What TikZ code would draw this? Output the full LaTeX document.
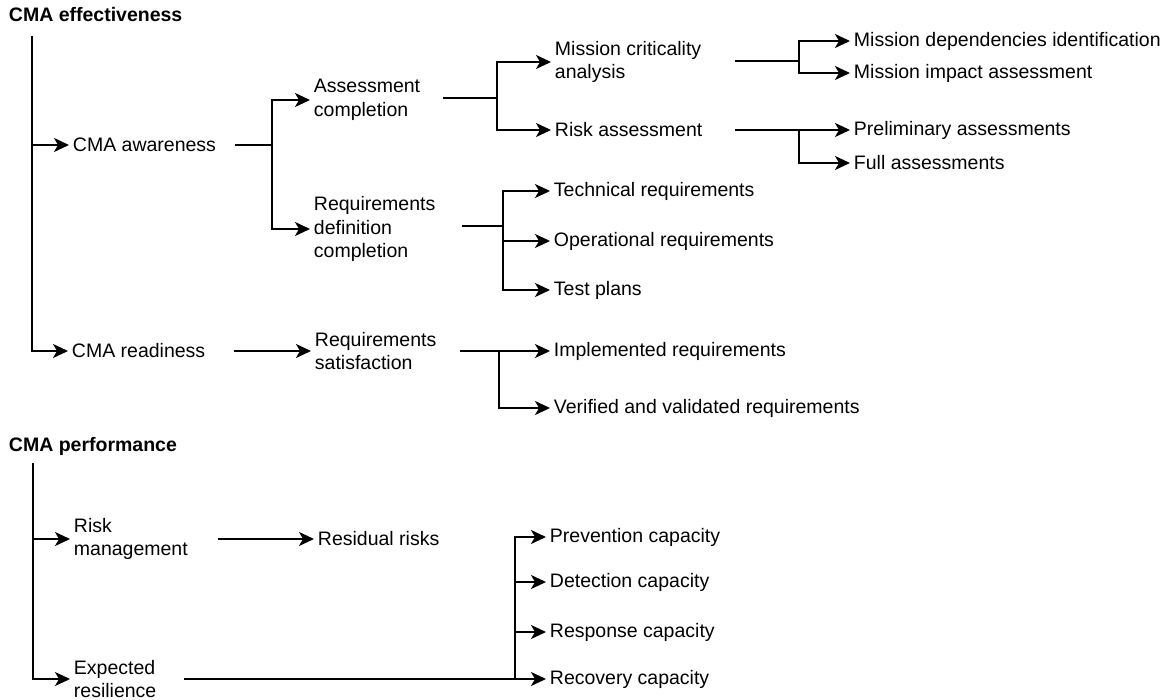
\documentclass[tikz,border=0pt]{standalone}
\usepackage{fontspec}
\setmainfont{Liberation Sans}
\usetikzlibrary{arrows.meta}

\begin{document}
\begin{tikzpicture}[x=1pt, y=-1pt, line width=1.9pt,
  lbl/.style={anchor=west, align=left, inner xsep=3pt, inner ysep=1pt,
    font=\fontsize{19.5}{23.5}\selectfont},
  head/.style={lbl, font=\fontsize{19.5}{23.5}\selectfont\bfseries},
  arr/.style={-{Stealth[length=15pt, width=14pt, inset=4pt]}}]
  \useasboundingbox (0,0) rectangle (1174,700);

  % CMA effectiveness
  \node[head] (eff)  at (5,15)    {CMA effectiveness};
  \node[lbl]  (aw)   at (69,145)  {CMA awareness};
  \node[lbl]  (rd)   at (68,351)  {CMA readiness};
  \node[lbl]  (ac)   at (310,100) {Assessment\\completion};
  \node[lbl]  (rdc)  at (310,229) {Requirements\\definition\\completion};
  \node[lbl]  (rs)   at (311,351) {Requirements\\satisfaction};
  \node[lbl]  (mca)  at (551,62)  {Mission criticality\\analysis};
  \node[lbl]  (ra)   at (551,130) {Risk assessment};
  \node[lbl]  (mdi)  at (850,41)  {Mission dependencies identification};
  \node[lbl]  (mia)  at (850,73)  {Mission impact assessment};
  \node[lbl]  (pa)   at (850,130) {Preliminary assessments};
  \node[lbl]  (fa)   at (850,163) {Full assessments};
  \node[lbl]  (tr)   at (550,191) {Technical requirements};
  \node[lbl]  (opr)  at (550,241) {Operational requirements};
  \node[lbl]  (tp)   at (550,290) {Test plans};
  \node[lbl]  (ir)   at (550,351) {Implemented requirements};
  \node[lbl]  (vvr)  at (550,408) {Verified and validated requirements};

  % CMA performance
  \node[head] (perf) at (5,446)   {CMA performance};
  \node[lbl]  (rm)   at (70,539)  {Risk\\management};
  \node[lbl]  (er)   at (70,679)  {Expected\\resilience};
  \node[lbl]  (rr)   at (314,539) {Residual risks};
  \node[lbl]  (pc)   at (546,537) {Prevention capacity};
  \node[lbl]  (dc)   at (546,582) {Detection capacity};
  \node[lbl]  (rsc)  at (546,632) {Response capacity};
  \node[lbl]  (rec)  at (546,679) {Recovery capacity};

  % effectiveness tree
  \coordinate (e0) at (32,36);
  \draw[arr] (e0) |- (aw.west);
  \draw[arr] (e0) |- (rd.west);

  \coordinate (aw-o) at (235,145);
  \coordinate (aw-f) at (272,145);
  \draw (aw-o) -- (aw-f);
  \draw[arr] (aw-f) |- (ac.west);
  \draw[arr] (aw-f) |- (rdc.west);

  \coordinate (ac-o) at (443,98);
  \coordinate (ac-f) at (497,98);
  \draw (ac-o) -- (ac-f);
  \draw[arr] (ac-f) |- (mca.west);
  \draw[arr] (ac-f) |- (ra.west);

  \coordinate (mca-o) at (735,61);
  \coordinate (mca-f) at (799,61);
  \draw (mca-o) -- (mca-f);
  \draw[arr] (mca-f) |- (mdi.west);
  \draw[arr] (mca-f) |- (mia.west);

  \coordinate (ra-o) at (735,130);
  \coordinate (ra-f) at (799,130);
  \draw[arr] (ra-o) -- (pa.west);
  \draw[arr] (ra-f) |- (fa.west);

  \coordinate (rdc-o) at (462,226);
  \coordinate (rdc-f) at (503,226);
  \draw (rdc-o) -- (rdc-f);
  \foreach \n in {tr,opr,tp} \draw[arr] (rdc-f) |- (\n.west);

  \coordinate (rd-o) at (234,351);
  \draw[arr] (rd-o) -- (rs.west);
  \coordinate (rs-o) at (460,351);
  \coordinate (rs-f) at (499,351);
  \draw[arr] (rs-o) -- (ir.west);
  \draw[arr] (rs-f) |- (vvr.west);

  % performance tree
  \coordinate (p0) at (33,463);
  \draw[arr] (p0) |- (rm.west);
  \draw[arr] (p0) |- (er.west);
  \coordinate (rm-o) at (218,539);
  \draw[arr] (rm-o) -- (rr.west);
  \coordinate (er-o) at (184,679);
  \coordinate (er-f) at (515,679);
  \draw[arr] (er-o) -- (rec.west);
  \foreach \n in {pc,dc,rsc} \draw[arr] (er-f) |- (\n.west);
\end{tikzpicture}
\end{document}
